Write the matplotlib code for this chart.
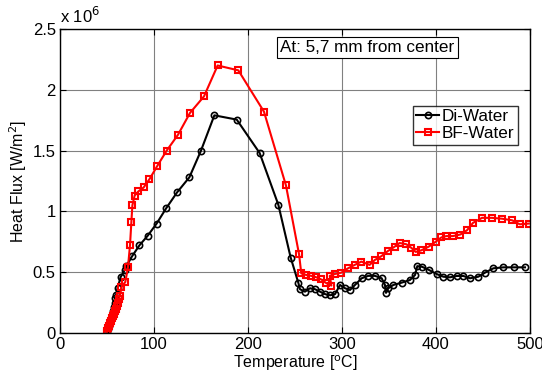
import matplotlib
matplotlib.use("Agg")
import matplotlib.pyplot as plt
from matplotlib.ticker import FuncFormatter

plt.rcParams['font.family'] = ['Liberation Sans', 'DejaVu Sans']

# Di-Water: temperature [C], heat flux [1e6 W/m^2]
di_T = [50, 51, 52, 53, 54, 55, 56, 57, 58, 58.5, 59.6, 61.3, 64.5, 69, 70.6, 76.6, 84.4, 93.3,
        102.8, 112.8, 124.5, 137.6, 150, 164.2, 188, 212.4, 232.3, 245.4, 253.5, 255.3,
        260.6, 265.9, 271.3, 276.6, 281.9, 287.2, 292.6, 297.9, 303.2, 308.5, 313.8,
        320.9, 328, 335.1, 342.2, 345.7, 346.8, 349.3, 354.6, 363.5, 372.3, 377.7, 380.1,
        384.8, 392.6, 400.7, 407.8, 414.9, 422, 429.1, 436.2, 445, 452.1, 461, 471.6,
        483, 494.7]
di_q = [0.0, 0.03, 0.06, 0.09, 0.12, 0.15, 0.18, 0.21, 0.25, 0.29, 0.31, 0.37, 0.46, 0.52, 0.55, 0.63, 0.72, 0.80,
        0.90, 1.024, 1.156, 1.28, 1.50, 1.79, 1.755, 1.48, 1.054, 0.62, 0.414, 0.36,
        0.34, 0.368, 0.36, 0.34, 0.32, 0.31, 0.32, 0.395, 0.368, 0.354, 0.395,
        0.45, 0.47, 0.47, 0.45, 0.395, 0.33, 0.368, 0.395, 0.414, 0.436, 0.477, 0.55,
        0.546, 0.518, 0.485, 0.463, 0.458, 0.469, 0.469, 0.45, 0.463, 0.496, 0.532, 0.54,
        0.54, 0.54]

# BF-Water
bf_T = [49.6, 50.5, 51.5, 52.5, 53.5, 54.5, 55.5, 56.5, 57.5, 58.5, 59.5, 60.5, 61.5, 62.5, 63.8,
        65.2, 69.5, 72.3, 74.5, 75.9, 77, 79.4, 83.3, 89, 95, 103.2, 113.5, 125.5, 138.3,
        153.2, 167.7, 189.7, 217, 240.4, 254.3, 256.7, 262, 267.4, 272.7, 278, 283.3,
        288.7, 287, 292.2, 299.3, 306.4, 313.5, 320.6, 329.4, 334.8, 341.9, 349, 356,
        361.3, 368.4, 373.8, 378.4, 384.4, 392.2, 399.6, 405.7, 411, 418, 425.9, 433,
        439.4, 449, 459.6, 470.2, 480.9, 489.1, 498.7]
bf_q = [0.0, 0.02, 0.04, 0.06, 0.08, 0.10, 0.12, 0.14, 0.16, 0.18, 0.20, 0.22, 0.25, 0.28, 0.305,
        0.376, 0.42, 0.54, 0.725, 0.91, 1.05, 1.13, 1.164, 1.197, 1.263, 1.37, 1.50, 1.63, 1.81,
        1.946, 2.20, 2.16, 1.82, 1.213, 0.648, 0.49, 0.477, 0.47, 0.458, 0.44, 0.41,
        0.39, 0.47, 0.485, 0.496, 0.532, 0.56, 0.587, 0.56, 0.60, 0.632, 0.675, 0.71,
        0.74, 0.73, 0.70, 0.667, 0.68, 0.71, 0.75, 0.786, 0.797, 0.797, 0.81, 0.845,
        0.906, 0.947, 0.947, 0.94, 0.927, 0.894, 0.90]

x_ticks = [0, 100, 200, 300, 400, 500]
y_ticks = [0, 0.5, 1, 1.5, 2, 2.5]

fig = plt.figure(figsize=(5.42, 3.77), dpi=100)
ax = fig.add_axes([60/542, 1-333/377, 470/542, 304/377])

ax.plot(di_T, di_q, color='black', marker='o', ms=4.5, mfc='none', mew=1.2, lw=1.5, label='Di-Water')
ax.plot(bf_T, bf_q, color='red', marker='s', ms=4.5, mfc='none', mew=1.5, lw=1.5, label='BF-Water')

ax.set_xlim(0, 500)
ax.set_ylim(0, 2.5)
ax.set_xticks(x_ticks)
ax.set_yticks(y_ticks)
ax.yaxis.set_major_formatter(FuncFormatter(lambda v, p: ('%g' % v)))
ax.grid(True, color='#808080', lw=0.8)
ax.set_axisbelow(True)
ax.tick_params(direction='in', top=True, right=True, labelsize=12, length=4, pad=3)
for s in ax.spines.values():
    s.set_linewidth(1.0)

ax.set_xlabel(r'Temperature [$^{\mathrm{o}}$C]', fontsize=11.5, labelpad=1)
ax.set_ylabel(r'Heat Flux [W/m$^{2}$]', fontsize=11.5, labelpad=3)

ax.text(0.0, 1.01, r'x 10$^{6}$', transform=ax.transAxes, fontsize=12, ha='left', va='bottom')

ax.text(0.468, 0.939, 'At: 5,7 mm from center', transform=ax.transAxes, fontsize=12.3,
        ha='left', va='center',
        bbox=dict(boxstyle='square,pad=0.2', fc='white', ec='black', lw=0.8))

leg = ax.legend(loc='upper left', bbox_to_anchor=((413-60)/470, 1-(106-29)/304),
                fontsize=12.3, frameon=True, fancybox=False, edgecolor='black',
                handlelength=1.3, handletextpad=0.2, borderpad=0.2, labelspacing=0.1,
                borderaxespad=0)
leg.get_frame().set_linewidth(1.0)

fig.savefig('out.png', dpi=100)
